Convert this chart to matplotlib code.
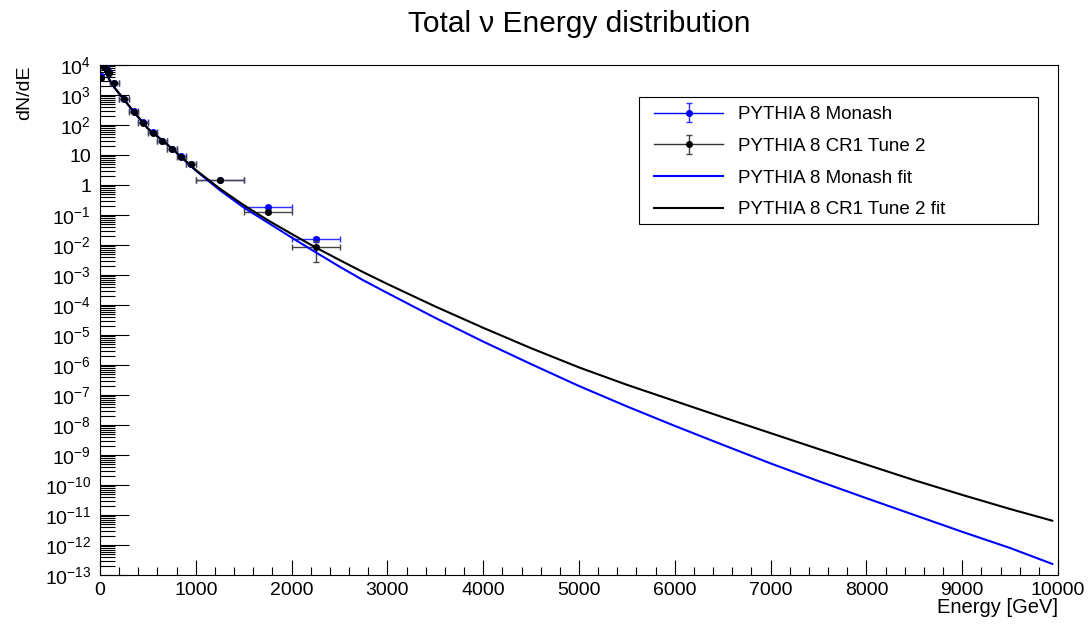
import numpy as np
import matplotlib
matplotlib.use("Agg")
import matplotlib.pyplot as plt
from matplotlib.patches import Rectangle
from matplotlib.lines import Line2D
from matplotlib.legend_handler import HandlerErrorbar, HandlerTuple
from matplotlib.ticker import FixedLocator, FuncFormatter, MultipleLocator

plt.rcParams['font.family'] = ['Liberation Sans', 'DejaVu Sans']
plt.rcParams['mathtext.fontset'] = 'custom'
plt.rcParams['mathtext.rm'] = 'Liberation Sans'
plt.rcParams['mathtext.it'] = 'Liberation Sans:italic'
plt.rcParams['mathtext.bf'] = 'Liberation Sans:bold'
plt.rcParams['mathtext.sf'] = 'Liberation Sans'

# ---------------- data ----------------
bin_centers = [10, 30, 50, 70, 90, 150, 250, 350, 450, 550, 650, 750, 850, 950, 1250, 1750, 2250]
bin_halfwidths = [10, 10, 10, 10, 10, 50, 50, 50, 50, 50, 50, 50, 50, 50, 250, 250, 250]

monash_vals = [4200, 10000, 9000, 7500, 5800, 2500, 760, 290, 122, 58, 30, 16.2, 9.0, 5.1, 1.5, 0.18, 0.016]
monash_errs = [60, 100, 95, 85, 75, 50, 25, 12, 6, 3.5, 2.2, 1.4, 0.9, 0.6, 0.12, 0.015, 0.003]

cr1_vals = [3800, 9500, 8500, 7000, 5500, 2450, 740, 277, 119, 55, 29, 15.8, 8.7, 5.0, 1.45, 0.13, 0.0083]
cr1_errs = [60, 95, 90, 85, 75, 50, 25, 12, 6, 3.5, 2.2, 1.4, 0.9, 0.6, 0.12, 0.015, 0.0055]

fit_E = [30, 60, 100, 150, 250, 350, 500, 750, 1000, 1250, 1500, 1750, 2000, 2250, 2500,
         2750, 3000, 3500, 4000, 4500, 5000, 5500, 6000, 6500, 7000, 7500, 8000, 8500,
         9000, 9500, 9940]
monash_fit_log10 = [3.97, 3.75, 3.50, 3.25, 2.85, 2.45, 1.88, 1.22, 0.48, -0.17, -0.75,
                    -1.25, -1.75, -2.24, -2.72, -3.18, -3.60, -4.43, -5.22, -5.97, -6.70,
                    -7.38, -8.03, -8.66, -9.28, -9.87, -10.44, -11.00, -11.56, -12.10, -12.63]
cr1_fit_log10 = [3.97, 3.75, 3.50, 3.25, 2.85, 2.45, 1.88, 1.22, 0.50, -0.12, -0.67,
                 -1.17, -1.63, -2.08, -2.50, -2.91, -3.30, -4.05, -4.76, -5.44, -6.08,
                 -6.66, -7.20, -7.74, -8.27, -8.80, -9.32, -9.84, -10.33, -10.80, -11.19]

title = "Total \u03bd Energy distribution"
legend_labels = ["PYTHIA 8 Monash", "PYTHIA 8 CR1 Tune 2",
                 "PYTHIA 8 Monash fit", "PYTHIA 8 CR1 Tune 2 fit"]

BLUE = '#0000ff'

# ---------------- figure ----------------
W, H = 1089, 624
fig = plt.figure(figsize=(W / 100, H / 100), dpi=100)
ax = fig.add_axes([100 / W, 1 - 575 / H, (1058 - 100) / W, (575 - 65) / H])

h1 = ax.errorbar(bin_centers, monash_vals, xerr=bin_halfwidths, yerr=monash_errs,
                 fmt='o', ms=4, color=BLUE, ecolor='#3030ff', elinewidth=1,
                 capsize=2, capthick=1, zorder=3)
h2 = ax.errorbar(bin_centers, cr1_vals, xerr=bin_halfwidths, yerr=cr1_errs,
                 fmt='o', ms=4, color='black', ecolor='#444444', elinewidth=1,
                 capsize=2, capthick=1, zorder=4)
l1, = ax.plot(fit_E, 10.0 ** np.array(monash_fit_log10), color=BLUE, lw=1.5, zorder=5)
l2, = ax.plot(fit_E, 10.0 ** np.array(cr1_fit_log10), color='black', lw=1.5, zorder=6)

ax.set_yscale('log')
ax.set_xlim(0, 10000)
ax.set_ylim(1e-13, 1e4)

major_y = [10.0 ** k for k in range(-13, 5)]
minor_y = [m * 10.0 ** k for k in range(-13, 4) for m in range(2, 10)]
ax.yaxis.set_major_locator(FixedLocator(major_y))
ax.yaxis.set_minor_locator(FixedLocator(minor_y))


def yfmt(v, pos):
    k = int(round(np.log10(v)))
    if k == 0:
        return '1'
    if k == 1:
        return '10'
    return r'$10^{%d}$' % k


ax.yaxis.set_major_formatter(FuncFormatter(yfmt))
ax.yaxis.set_minor_formatter(FuncFormatter(lambda v, p: ''))
ax.xaxis.set_major_locator(MultipleLocator(1000))
ax.xaxis.set_minor_locator(MultipleLocator(200))

ax.tick_params(axis='x', which='major', direction='in', length=10.8, width=0.8,
               labelsize=14, pad=5, top=False)
ax.tick_params(axis='x', which='minor', direction='in', length=5.8, width=0.8, top=False)
ax.tick_params(axis='y', which='major', direction='in', length=20.9, width=0.8,
               labelsize=14, pad=6.5, right=False)
ax.tick_params(axis='y', which='minor', direction='in', length=10.8, width=0.8, right=False)
for s in ax.spines.values():
    s.set_linewidth(0.8)

fig.text(579 / W, 1 - 32 / H, title, ha='center', va='baseline', fontsize=21.5)
fig.text(24.5 / W, 1 - 65 / H, 'dN/dE', rotation=90, ha='center', va='top', fontsize=14)
fig.text(1058 / W, 1 - 613 / H, 'Energy [GeV]', ha='right', va='baseline', fontsize=14.5)

# legend box and entries
fig.patches.append(Rectangle((639 / W, 1 - 224 / H), (1038 - 639) / W, (224 - 97) / H,
                             transform=fig.transFigure, facecolor='white',
                             edgecolor='black', linewidth=0.8, zorder=9))
hl1 = Line2D([], [], color=BLUE, lw=1)
hl2 = Line2D([], [], color='#333333', lw=1)
leg = fig.legend([(hl1, h1), (hl2, h2), l1, l2], legend_labels,
                 loc='upper left', bbox_to_anchor=(654 / W, 1 - 106 / H),
                 fontsize=13.5, frameon=False, borderpad=0, labelspacing=0.78,
                 handlelength=3.68, handletextpad=0.8, borderaxespad=0,
                 handler_map={tuple: HandlerTuple(ndivide=1),
                              h1: HandlerErrorbar(xerr_size=0, yerr_size=0.5),
                              h2: HandlerErrorbar(xerr_size=0, yerr_size=0.5)})
leg.set_zorder(10)

fig.savefig('out.png', dpi=100)
